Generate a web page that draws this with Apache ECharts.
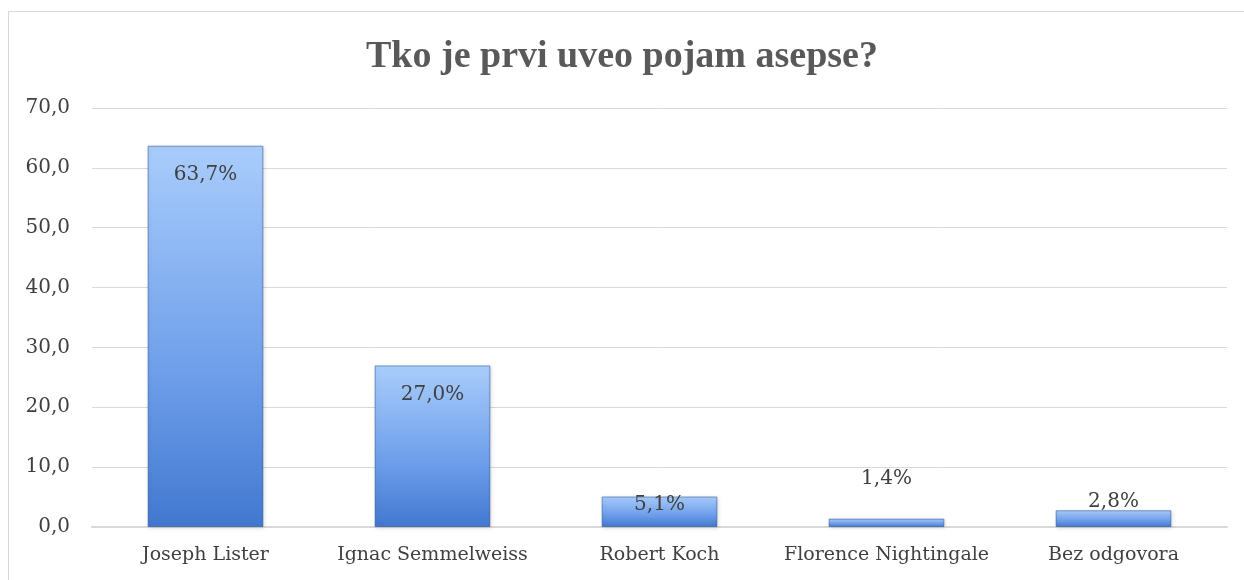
<!DOCTYPE html>
<html>
<head>
<meta charset="utf-8">
<script src="https://cdn.jsdelivr.net/npm/echarts@6/dist/echarts.min.js"></script>
<style>
  html, body {margin: 0; padding: 0; background: #fff;}
  #frame {position: absolute; left: 8px; top: 11px; width: 1250px; height: 600px; border: 1px solid #d9d9d9; box-sizing: border-box;}
  #main {position: absolute; left: 0; top: 0; width: 1244px; height: 580px;}
</style>
</head>
<body>
<div id="frame"></div>
<div id="main"></div>
<script>
// podaci
var categories = ["Joseph Lister", "Ignac Semmelweiss", "Robert Koch", "Florence Nightingale", "Bez odgovora"];
var values = [63.7, 27.0, 5.1, 1.4, 2.8];
var yTicks = [0, 10, 20, 30, 40, 50, 60, 70];

var myChart = echarts.init(document.getElementById("main"));

var barColor = new echarts.graphic.LinearGradient(0, 0, 0, 1, [
  {offset: 0, color: "#a9cdfb"},
  {offset: 0.6, color: "#6e9eea"},
  {offset: 1, color: "#4178cf"}
], false);

// visoki stupci: oznaka unutra, niski: iznad
function labelFor(v) {
  if (v > 20) return {position: "insideTop", distance: 19};
  if (v < 2) return {position: "top", distance: 30};
  return {position: "top", distance: v < 3 ? -2 : -18};
}

var seriesData = values.map(function (v) {
  return {value: v, label: labelFor(v)};
});

var option = {
  animation: false,
  title: {
    text: "Tko je prvi uveo pojam asepse?",
    left: "center",
    top: 33,
    textStyle: {fontFamily: "Liberation Serif", fontWeight: "bold", fontSize: 38, color: "#595959"}
  },
  grid: {left: 92, right: 17, top: 108, bottom: 53, containLabel: false},
  xAxis: {
    type: "category",
    data: categories,
    axisTick: {show: false},
    axisLine: {lineStyle: {color: "#d9d9d9", width: 2}},
    axisLabel: {interval: 0, color: "#404040", fontFamily: "DejaVu Serif", fontSize: 19, margin: 19}
  },
  yAxis: {
    type: "value",
    min: yTicks[0],
    max: yTicks[yTicks.length - 1],
    interval: 10,
    axisLine: {show: false},
    axisTick: {show: false},
    splitLine: {lineStyle: {color: "#d9d9d9", width: 1}},
    axisLabel: {
      color: "#404040", fontFamily: "DejaVu Serif", fontSize: 20, margin: 22,
      formatter: function (v) { return v.toFixed(1).replace(".", ","); }
    }
  },
  series: [{
    type: "bar",
    data: seriesData,
    barWidth: "51%",
    itemStyle: {
      color: barColor,
      borderColor: "rgba(40,80,150,0.55)",
      borderWidth: 1,
      shadowColor: "rgba(0,0,0,0.15)",
      shadowBlur: 4,
      shadowOffsetX: 1,
      shadowOffsetY: 1
    },
    label: {
      show: true,
      color: "#404040",
      fontFamily: "DejaVu Serif",
      fontSize: 20,
      formatter: function (p) { return p.value.toFixed(1).replace(".", ",") + "%"; }
    }
  }]
};

if (option && typeof option === "object") {
  myChart.setOption(option, true);
}
</script>
</body>
</html>
